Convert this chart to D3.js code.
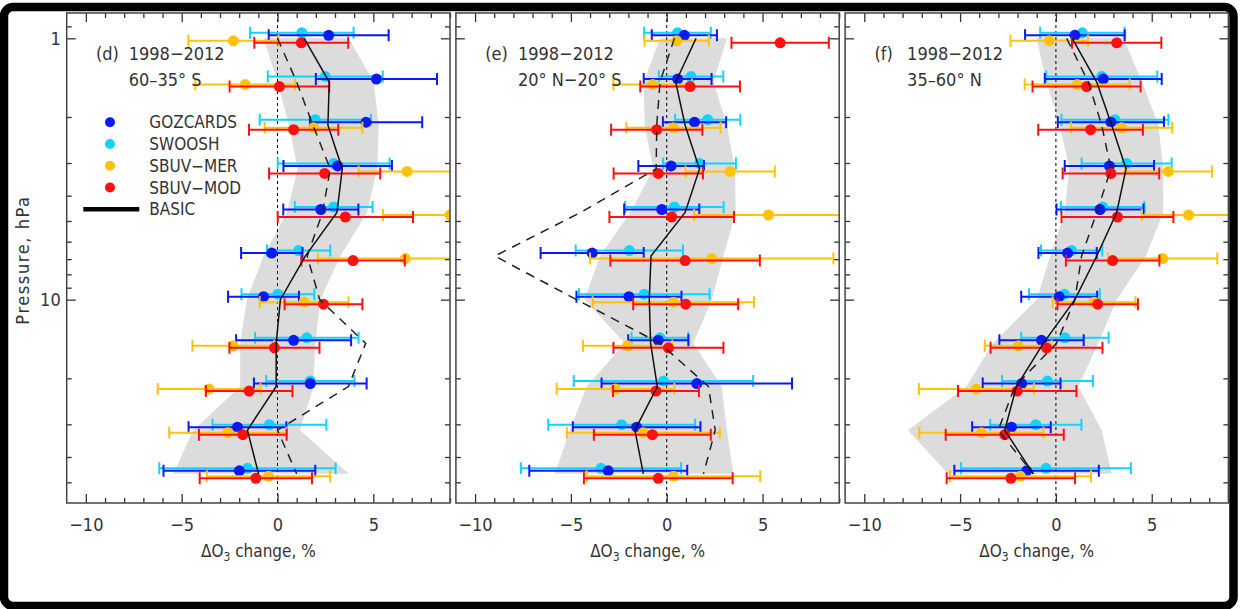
<!DOCTYPE html>
<html>
<head>
<meta charset="utf-8">
<script src="https://cdn.jsdelivr.net/npm/d3@7"></script>
<style>
	body { margin: 0; background: #fff; }
	text { font-family: "Liberation Sans Narrow", "DejaVu Sans Condensed", "Liberation Sans", sans-serif; fill: #333; }
</style>
</head>
<body>
<div class="c-svg"></div>
<script>
//DATA
//-------------------------------------------------------------------------

//pressure levels, hPa
const pressure = [1.0, 1.47, 2.15, 3.16, 4.64, 6.81, 10.0, 14.7, 21.5, 31.6, 46.4];

const seriesNames = ["SWOOSH", "GOZCARDS", "SBUV-MER", "SBUV-MOD"];
const legendNames = ["GOZCARDS", "SWOOSH", "SBUV\u2212MER", "SBUV\u2212MOD", "BASIC"];

const xTicks = [-10, -5, 0, 5];

//(d) 60-35 S
const dGoz = [2.67, 5.16, 4.62, 3.14, 2.26, -0.30, -0.73, 0.84, 1.71, -2.09, -1.99];
const dGozErr = [3.13, 3.16, 2.93, 2.83, 1.96, 1.60, 1.85, 3.00, 2.94, 2.55, 3.96];
const dSwo = [1.27, 2.49, 1.97, 2.93, 2.93, 1.10, 0.02, 1.53, 1.71, -0.42, -1.57];
const dSwoErr = [2.70, 3.00, 2.90, 2.92, 2.03, 1.65, 1.90, 2.70, 2.30, 2.97, 4.60];
const dMer = [-2.30, -1.69, 1.88, 6.76, 9.00, 6.67, 1.39, -2.30, -3.57, -2.60, -0.47];
const dMerErr = [2.35, 2.60, 2.55, 2.53, 3.50, 4.56, 2.32, 2.14, 2.68, 3.05, 3.22];
const dMod = [1.24, 0.10, 0.84, 2.46, 3.54, 3.94, 2.40, -0.16, -1.48, -1.81, -1.13];
const dModErr = [2.45, 2.60, 2.33, 2.90, 3.53, 2.70, 2.03, 2.35, 2.26, 2.29, 2.93];
const dBasic = [1.39, 2.70, 2.63, 3.38, 3.10, 1.45, 0.15, -0.07, -0.07, -1.57, -0.99];
const dDash = [0.00, 1.00, 1.85, 2.75, 2.35, 1.55, 2.20, 4.60, 3.70, 0.00, 1.00];
const dBandLo = [-0.73, 0.00, 0.60, 1.05, 0.49, -0.73, -1.60, -1.95, -1.95, -4.39, -5.44];
const dBandHi = [3.71, 5.02, 5.28, 5.20, 4.67, 3.28, 2.23, 1.97, 1.88, 1.18, 3.71];

//(e) 20N-20S
const eGoz = [0.92, 0.57, 1.45, 0.23, -0.26, -3.89, -1.97, -0.44, 1.57, -1.57, -3.05];
const eGozErr = [1.70, 1.77, 1.65, 1.71, 1.96, 2.69, 2.74, 1.57, 4.97, 3.33, 4.12];
const eSwo = [0.56, 1.27, 2.14, 1.71, 0.40, -1.95, -1.17, -0.35, -0.17, -2.35, -3.43];
const eSwoErr = [1.74, 1.68, 1.70, 1.90, 2.57, 2.80, 3.41, 1.48, 4.68, 3.83, 4.18];
const eMer = [0.52, -0.73, 0.35, 3.31, 5.31, 2.35, 0.35, -2.04, -2.67, -1.22, 0.35];
const eMerErr = [1.68, 2.05, 2.46, 2.33, 3.88, 6.35, 4.21, 2.33, 3.07, 3.99, 4.53];
const eMod = [5.92, 1.22, -0.52, -0.44, 0.26, 0.96, 0.99, 0.09, -0.56, -0.75, -0.44];
const eModErr = [2.54, 2.60, 2.38, 2.33, 3.25, 3.90, 2.74, 2.87, 2.24, 3.05, 3.88];
const eBasic = [1.53, 0.47, 0.96, 1.71, 0.96, -0.82, -0.91, -0.84, -0.49, -1.66, -1.22];
const eDash = [0.40, -0.35, -0.52, -0.55, -4.50, -8.97, -4.70, -0.35, 2.18, 2.53, 1.92];
const eBandLo = [-0.35, -1.20, -1.15, -0.70, -1.90, -3.48, -4.30, -2.18, -4.18, -5.05, -5.84];
const eBandHi = [3.14, 2.44, 3.14, 3.56, 3.60, 2.96, 2.35, 1.39, 2.87, 3.14, 3.48];

//(f) 35-60 N
const fGoz = [0.99, 2.47, 2.87, 2.79, 2.30, 0.61, 0.17, -0.75, -1.79, -2.32, -1.53];
const fGozErr = [2.60, 3.05, 2.77, 2.33, 2.27, 1.52, 1.98, 2.20, 2.03, 2.05, 3.77];
const fSwo = [1.38, 2.39, 3.08, 3.69, 2.44, 0.82, 0.44, 0.47, -0.44, -1.05, -0.52];
const fSwoErr = [2.20, 2.90, 2.79, 2.35, 2.18, 1.60, 1.85, 2.28, 2.37, 2.38, 4.43];
const fMer = [-0.35, 1.11, 3.43, 5.87, 6.92, 5.57, 1.99, -1.97, -4.15, -3.89, -1.85];
const fMerErr = [2.02, 2.74, 2.64, 2.28, 2.44, 2.85, 2.16, 1.74, 3.00, 3.24, 3.68];
const fMod = [3.17, 1.60, 1.81, 2.87, 3.21, 2.96, 2.18, -0.49, -2.02, -2.67, -2.35];
const fModErr = [2.33, 2.82, 2.73, 2.52, 2.92, 2.44, 2.10, 2.92, 3.09, 3.08, 3.35];
const fBasic = [0.85, 2.13, 2.91, 3.66, 3.17, 2.13, 0.99, -0.66, -2.06, -2.67, -1.18];
const fDash = [0.56, 1.69, 2.39, 2.87, 2.13, 1.34, 0.99, 0.03, -2.14, -3.01, -1.18];
const fBandLo = [-1.01, -0.50, 0.20, 0.70, 0.45, -0.30, -1.00, -3.28, -4.67, -7.72, -5.63];
const fBandHi = [3.52, 4.50, 5.35, 5.60, 5.60, 4.70, 3.17, 2.21, 1.17, 2.39, 2.91];

const panels = [
	{ tag: "(d)", years: "1998\u22122012", region: "60\u201335\u00b0 S",
		series: [[dSwo, dSwoErr], [dGoz, dGozErr], [dMer, dMerErr], [dMod, dModErr]],
		basic: dBasic, dash: dDash, lo: dBandLo, hi: dBandHi },
	{ tag: "(e)", years: "1998\u22122012", region: "20\u00b0 N\u221220\u00b0 S",
		series: [[eSwo, eSwoErr], [eGoz, eGozErr], [eMer, eMerErr], [eMod, eModErr]],
		basic: eBasic, dash: eDash, lo: eBandLo, hi: eBandHi },
	{ tag: "(f)", years: "1998\u22122012", region: "35\u201360\u00b0 N",
		series: [[fSwo, fSwoErr], [fGoz, fGozErr], [fMer, fMerErr], [fMod, fModErr]],
		basic: fBasic, dash: fDash, lo: fBandLo, hi: fBandHi }
];


//OPTS
//-------------------------------------------------------------------------

const opts = { width: 1240, height: 609 };

const plot = {
	top: 13,
	bottom: 503,
	left: 66.7,
	width: 383.3,
	step: 389.2
};

//per series: colour and small vertical shift (px) so the bars do not overlap
const seriesStyle = {
	"SWOOSH": { color: "#10d4ff", shift: -5.5 },
	"GOZCARDS": { color: "#0a1af5", shift: -3 },
	"SBUV-MER": { color: "#ffc20a", shift: 2.5 },
	"SBUV-MOD": { color: "#ff1010", shift: 4.5 }
};
const legendColors = ["#0a1af5", "#10d4ff", "#ffc20a", "#ff1010"];

const viz = { r: 5.5, cap: 6, barWidth: 2 };

const svg = d3.select(".c-svg")
	.append("svg")
	.attr("width", opts.width)
	.attr("height", opts.height);

//outer frame
svg.append("rect")
	.attr("x", 4).attr("y", 7)
	.attr("width", 1229.5).attr("height", 599)
	.attr("rx", 9)
	.attr("fill", "#fff")
	.attr("stroke", "#000")
	.attr("stroke-width", 8.5);

const y = d3.scaleLog()
	.domain([0.8, 60])
	.range([plot.top, plot.bottom]);

const yMajor = [1, 10];
const yMinor = [0.9, 2, 3, 4, 5, 6, 7, 8, 9, 20, 30, 40, 50];
const xMinor = d3.range(-10, 10).filter(v => v % 5 !== 0);


//PANELS
//-------------------------------------------------------------------------

panels.forEach((p, i) => {

	const left = plot.left + i * plot.step;
	const x = d3.scaleLinear()
		.domain([-11, 9])
		.range([left, left + plot.width]);

	const g = svg.append("g").attr("class", "panel");

	const clipId = "clip" + i;
	svg.append("clipPath").attr("id", clipId)
		.append("rect")
		.attr("x", left).attr("y", plot.top)
		.attr("width", plot.width).attr("height", plot.bottom - plot.top);

	const inner = g.append("g").attr("clip-path", `url(#${clipId})`);

	//grey band
	const area = d3.area()
		.x0((d, k) => x(p.lo[k]))
		.x1((d, k) => x(p.hi[k]))
		.y(d => y(d));

	inner.append("path")
		.datum(pressure)
		.attr("d", area)
		.attr("fill", "#dcdcdc");

	//zero line
	inner.append("line")
		.attr("x1", x(0)).attr("x2", x(0))
		.attr("y1", plot.top).attr("y2", plot.bottom)
		.attr("stroke", "#000")
		.attr("stroke-width", 1)
		.attr("stroke-dasharray", "3,3");

	//error bars and dots
	p.series.forEach(([vals, errs], s) => {
		const st = seriesStyle[seriesNames[s]];
		const sg = inner.append("g").attr("class", "series");
		const rows = pressure.map((pr, k) => ({ v: vals[k], e: errs[k], yy: y(pr) + st.shift }));

		sg.selectAll(".bar")
			.data(rows)
			.join("path")
			.attr("class", "bar")
			.attr("d", d => {
				const a = x(d.v - d.e), b = x(d.v + d.e);
				return `M${a},${d.yy}H${b}M${a},${d.yy - viz.cap}V${d.yy + viz.cap}M${b},${d.yy - viz.cap}V${d.yy + viz.cap}`;
			})
			.attr("fill", "none")
			.attr("stroke", st.color)
			.attr("stroke-width", viz.barWidth);

		sg.selectAll(".dot")
			.data(rows)
			.join("circle")
			.attr("class", "dot")
			.attr("cx", d => x(d.v))
			.attr("cy", d => d.yy)
			.attr("r", viz.r)
			.attr("fill", st.color);
	});

	//BASIC and dashed lines
	const line = vals => d3.line()
		.x((d, k) => x(vals[k]))
		.y(d => y(d))(pressure);

	inner.append("path")
		.attr("d", line(p.dash))
		.attr("fill", "none")
		.attr("stroke", "#222")
		.attr("stroke-width", 1.5)
		.attr("stroke-dasharray", "9,7");

	inner.append("path")
		.attr("d", line(p.basic))
		.attr("fill", "none")
		.attr("stroke", "#111")
		.attr("stroke-width", 1.5);

	//AXIS
	//-------------------------------------------------------------------------
	const axisG = g.append("g").attr("class", "axis");

	const bottomMajor = d3.axisBottom(x).tickValues(xTicks)
		.tickSizeInner(-9).tickSizeOuter(0).tickPadding(15)
		.tickFormat(d => d < 0 ? "\u2212" + Math.abs(d) : d);
	const bottomMinor = d3.axisBottom(x).tickValues(xMinor)
		.tickSizeInner(-5).tickSizeOuter(0).tickFormat("");
	axisG.append("g").attr("transform", `translate(0 ${plot.bottom})`).call(bottomMajor);
	axisG.append("g").attr("transform", `translate(0 ${plot.bottom})`).call(bottomMinor);

	const topMajor = d3.axisTop(x).tickValues(xTicks)
		.tickSizeInner(-9).tickSizeOuter(0).tickFormat("");
	const topMinor = d3.axisTop(x).tickValues(xMinor)
		.tickSizeInner(-5).tickSizeOuter(0).tickFormat("");
	axisG.append("g").attr("transform", `translate(0 ${plot.top})`).call(topMajor);
	axisG.append("g").attr("transform", `translate(0 ${plot.top})`).call(topMinor);

	const leftMajor = d3.axisLeft(y).tickValues(yMajor)
		.tickSizeInner(-9).tickSizeOuter(0).tickPadding(6)
		.tickFormat(i === 0 ? d3.format("d") : "");
	const leftMinor = d3.axisLeft(y).tickValues(yMinor)
		.tickSizeInner(-5).tickSizeOuter(0).tickFormat("");
	axisG.append("g").attr("transform", `translate(${left} 0)`).call(leftMajor);
	axisG.append("g").attr("transform", `translate(${left} 0)`).call(leftMinor);

	const rightMajor = d3.axisRight(y).tickValues(yMajor)
		.tickSizeInner(-9).tickSizeOuter(0).tickFormat("");
	const rightMinor = d3.axisRight(y).tickValues(yMinor)
		.tickSizeInner(-5).tickSizeOuter(0).tickFormat("");
	axisG.append("g").attr("transform", `translate(${left + plot.width} 0)`).call(rightMajor);
	axisG.append("g").attr("transform", `translate(${left + plot.width} 0)`).call(rightMinor);

	axisG.selectAll(".domain").remove();
	axisG.selectAll(".tick line").attr("stroke", "#333").attr("stroke-width", 1.3);
	axisG.selectAll(".tick text")
		.attr("font-family", null)
		.attr("font-size", 18)
		.attr("fill", "#555");

	//plot box
	g.append("rect")
		.attr("x", left).attr("y", plot.top)
		.attr("width", plot.width).attr("height", plot.bottom - plot.top)
		.attr("fill", "none")
		.attr("stroke", "#444")
		.attr("stroke-width", 1.5);

	//x title
	const xt = g.append("text")
		.attr("x", left + plot.width / 2)
		.attr("y", 557)
		.attr("text-anchor", "middle")
		.attr("font-size", 17)
		.attr("fill", "#555");
	xt.append("tspan").text("\u0394O");
	xt.append("tspan").attr("font-size", 12).attr("dy", 4).text("3");
	xt.append("tspan").attr("dy", -4).text(" change, %");

	//panel labels
	g.append("text")
		.attr("x", left + 29.3).attr("y", 60)
		.attr("font-size", 18)
		.attr("fill", "#222")
		.text(p.tag);
	g.append("text")
		.attr("x", left + 62).attr("y", 60)
		.attr("font-size", 18)
		.attr("fill", "#222")
		.text(p.years);
	g.append("text")
		.attr("x", left + 62).attr("y", 86)
		.attr("font-size", 18)
		.attr("fill", "#333")
		.text(p.region);
});


//Y TITLE
//-------------------------------------------------------------------------
svg.append("text")
	.attr("transform", "translate(29 260) rotate(-90)")
	.attr("text-anchor", "middle")
	.attr("font-size", 18)
	.attr("letter-spacing", 1.6)
	.attr("fill", "#555")
	.text("Pressure, hPa");


//LEGEND
//-------------------------------------------------------------------------
const legend = svg.append("g").attr("class", "legend");
const legendY = d3.scalePoint().domain(legendNames).range([122.3, 209.3]);

legend.selectAll("circle")
	.data(legendNames.slice(0, 4))
	.join("circle")
	.attr("cx", 110)
	.attr("cy", d => legendY(d))
	.attr("r", 5)
	.attr("fill", (d, k) => legendColors[k]);

legend.append("line")
	.attr("x1", 83.3).attr("x2", 139.3)
	.attr("y1", legendY("BASIC")).attr("y2", legendY("BASIC"))
	.attr("stroke", "#000")
	.attr("stroke-width", 4.5);

legend.selectAll("text")
	.data(legendNames)
	.join("text")
	.attr("x", 149.3)
	.attr("y", d => legendY(d))
	.attr("dy", "0.36em")
	.attr("font-size", 17)
	.attr("fill", "#444")
	.text(d => d);
</script>
</body>
</html>
